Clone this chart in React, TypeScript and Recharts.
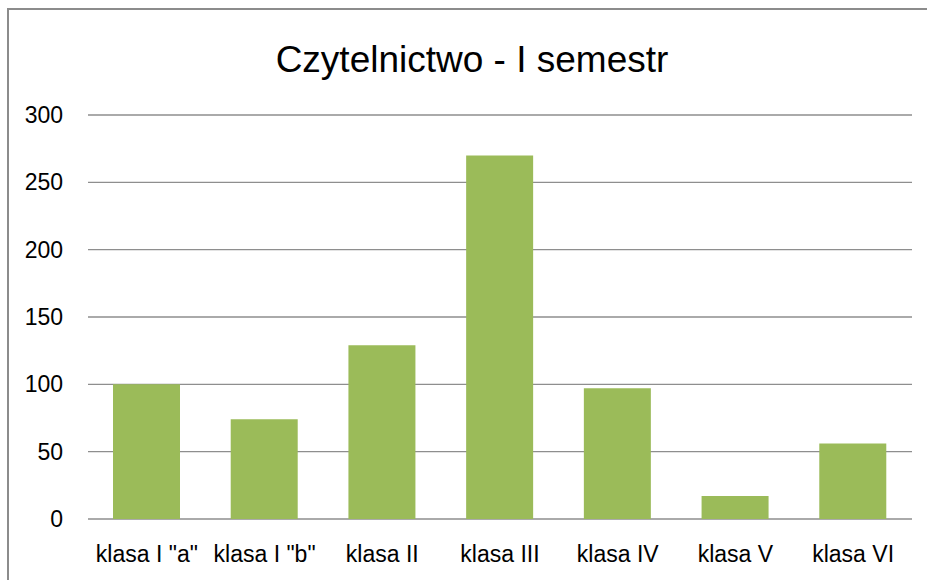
import React from "react";
import { BarChart, Bar, XAxis, YAxis, CartesianGrid } from "recharts";

const categories = ['klasa I "a"', 'klasa I "b"', "klasa II", "klasa III", "klasa IV", "klasa V", "klasa VI"];
const readers = [100, 74, 129, 270, 97, 17, 56];
const yTicks = [0, 50, 100, 150, 200, 250, 300];

const data = categories.map((name, i) => ({ name, value: readers[i] }));

const font = '"Liberation Sans", Arial, sans-serif';

const App: React.FC = () => {
    return (
        <div style={{ position: "absolute", left: 0, top: 0, width: 927, height: 580, overflow: "hidden", background: "#fff", fontFamily: font }}>
            <BarChart
                width={927}
                height={580}
                data={data}
                barSize={67}
                margin={{ top: 115, right: 15, left: 0, bottom: 0 }}
            >
                <CartesianGrid vertical={false} stroke="#8e8e8e" strokeWidth={1.3} />
                <XAxis
                    dataKey="name"
                    axisLine={false}
                    tickLine={false}
                    tickSize={0}
                    tickMargin={27}
                    height={61}
                    interval={0}
                    tick={{ fill: "#000", fontSize: 23, fontFamily: font }}
                />
                <YAxis
                    domain={[0, 300]}
                    ticks={yTicks}
                    axisLine={false}
                    tickLine={false}
                    tickSize={0}
                    tickMargin={25}
                    width={88}
                    tick={{ fill: "#000", fontSize: 23, fontFamily: font }}
                />
                <Bar dataKey="value" fill="#9bbb59" isAnimationActive={false} />
            </BarChart>
            <svg width={927} height={580} style={{ position: "absolute", left: 0, top: 0, pointerEvents: "none" }}>
                <rect x={8} y={9} width={1200} height={1200} fill="none" stroke="#8c8c8c" strokeWidth={2} />
                <text x={472} y={72} textAnchor="middle" fontSize={37} fontFamily={font} fill="#000">
                    Czytelnictwo - I semestr
                </text>
            </svg>
        </div>
    );
};

export default App;
